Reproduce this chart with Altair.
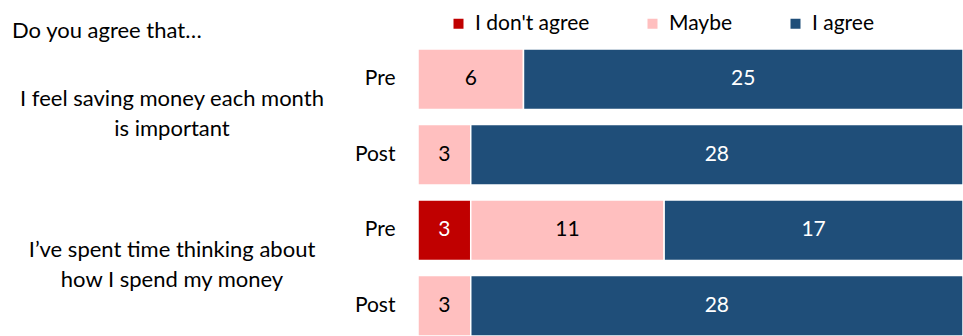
import altair as alt
import pandas as pd

rows = ["Q1 Pre", "Q1 Post", "Q2 Pre", "Q2 Post"]
categories = ["I don't agree", "Maybe", "I agree"]
dont_agree = [0, 0, 3, 0]
maybe = [6, 3, 11, 3]
agree = [25, 28, 17, 28]
colors = ["#C00000", "#FFBFBF", "#1F4E79"]
questions = ["I feel saving money each month\nis important",
             "I’ve spent time thinking about\nhow I spend my money"]
question_rows = ["Q1 Pre", "Q2 Pre"]
intro = ["Do you agree that…"]

FONT = "Lato"

records = []
for i, r in enumerate(rows):
    for k, (cat, vals) in enumerate(zip(categories, [dont_agree, maybe, agree])):
        if vals[i] > 0:
            records.append({"row": r, "category": cat, "order": k, "value": vals[i]})
df = pd.DataFrame(records)

yscale = alt.Scale(domain=rows, paddingInner=0.2, paddingOuter=0)

base = alt.Chart(df).transform_stack(
    stack="value", groupby=["row"], as_=["x0", "x1"],
    sort=[alt.SortField("order", order="ascending")]
).transform_calculate(mid="(datum.x0 + datum.x1) / 2")

bars = base.mark_bar(stroke="white", strokeWidth=1.5).encode(
    y=alt.Y("row:N", scale=yscale, title=None,
            axis=alt.Axis(domain=False, ticks=False, labelPadding=23,
                          labelExpr="split(datum.value, ' ')[1]",
                          labelFont=FONT, labelFontSize=21, labelColor="black")),
    x=alt.X("x0:Q", scale=alt.Scale(domain=[0, 31], nice=False), axis=None),
    x2="x1:Q",
    color=alt.Color("category:N", scale=alt.Scale(domain=categories, range=colors),
                    legend=alt.Legend(orient="none", legendX=30, legendY=-36,
                                      direction="horizontal", title=None,
                                      symbolType="square", symbolSize=100,
                                      symbolStrokeWidth=0, labelFont=FONT,
                                      labelFontSize=21, labelColor="black",
                                      labelOffset=6, columnPadding=52, padding=0)),
)

labels = base.mark_text(font=FONT, fontSize=21).encode(
    y=alt.Y("row:N"),
    x=alt.X("mid:Q"),
    text="value:Q",
    color=alt.condition("datum.category == 'Maybe'", alt.value("black"), alt.value("white")),
)

qdf = pd.DataFrame({"row": question_rows, "text": questions})
qtext = alt.Chart(qdf).mark_text(font=FONT, fontSize=22, lineBreak="\n", align="center",
                                 baseline="middle", dy=20, lineHeight=30, color="black").encode(
    y=alt.Y("row:N"),
    x=alt.value(-246),
    text="text:N",
)

idf = pd.DataFrame({"t": intro})
itext = alt.Chart(idf).mark_text(font=FONT, fontSize=22, align="left", baseline="middle",
                                 color="black").encode(
    x=alt.value(-406), y=alt.value(-18), text="t:N")

chart = alt.layer(bars, labels, qtext, itext).properties(
    width=545, height=287,
    padding={"left": 418, "top": 49, "right": 0, "bottom": 0},
    autosize="none",
).configure_view(stroke=None)

chart.save("out.html", embed_options={"renderer": "svg", "actions": False})
